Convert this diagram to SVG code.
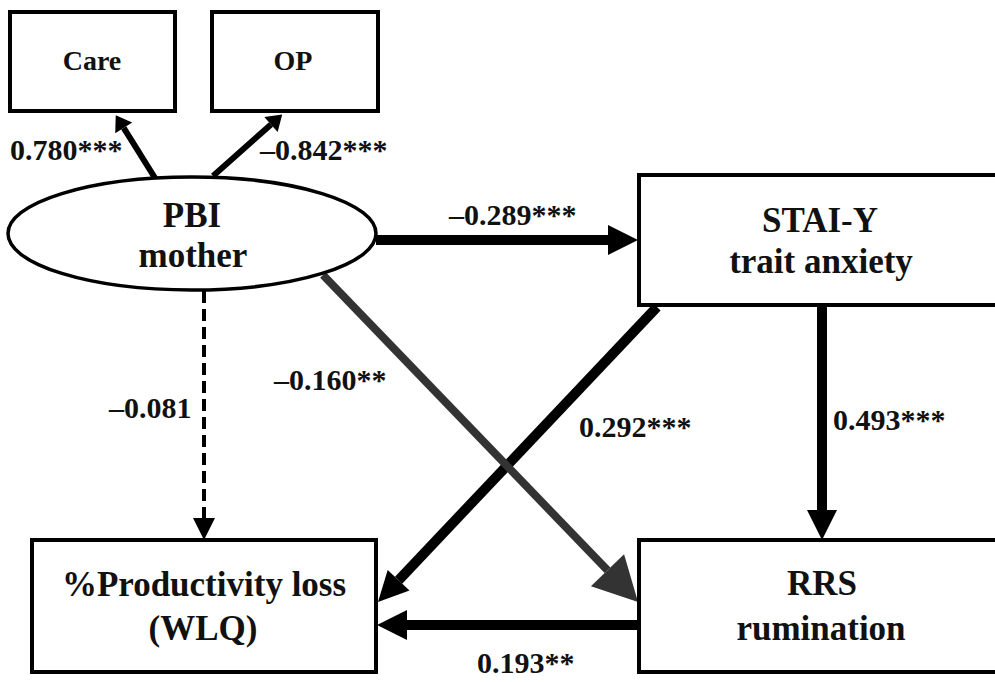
<svg xmlns="http://www.w3.org/2000/svg" width="995" height="682" viewBox="0 0 995 682">
<style>
.box{fill:#fff;stroke:#000;stroke-width:4;}
.ell{fill:#fff;stroke:#000;stroke-width:3.5;}
.thick{stroke:#000;stroke-width:10;fill:none;}
.mid{stroke:#000;stroke-width:6;fill:none;}
.gray{stroke:#333;stroke-width:8;fill:none;}
.dash{stroke:#000;stroke-width:4;stroke-dasharray:12 6;fill:none;}
</style>
<defs>
<marker id="ahBig" markerUnits="userSpaceOnUse" orient="auto" refX="0" refY="0" markerWidth="40" markerHeight="40" overflow="visible"><path d="M0,-15 L30,0 L0,15 z" fill="#000"/></marker>
<marker id="ahSmall" markerUnits="userSpaceOnUse" orient="auto" refX="0" refY="0" markerWidth="20" markerHeight="20" overflow="visible"><path d="M0,-10 L15,0 L0,10 z" fill="#000"/></marker>
<marker id="ahGray" markerUnits="userSpaceOnUse" orient="auto" refX="0" refY="0" markerWidth="60" markerHeight="60" overflow="visible"><path d="M0,-23 L44,0 L0,23 z" fill="#333"/></marker>
<marker id="ahDash" markerUnits="userSpaceOnUse" orient="auto" refX="0" refY="0" markerWidth="30" markerHeight="30" overflow="visible"><path d="M0,-11 L22,0 L0,11 z" fill="#000"/></marker>
</defs>
<rect width="995" height="682" fill="#fff"/>
<g id="connectors">
<line class="mid" x1="155" y1="178" x2="123.7" y2="127.9" marker-end="url(#ahSmall)"/>
<line class="mid" x1="213" y1="176" x2="271" y2="124.5" marker-end="url(#ahSmall)"/>
<line class="thick" x1="376" y1="240" x2="608" y2="240" marker-end="url(#ahBig)"/>
<line class="thick" x1="822" y1="305" x2="822" y2="510" marker-end="url(#ahBig)"/>
<line class="thick" x1="639" y1="625" x2="407" y2="625" marker-end="url(#ahBig)"/>
<line class="thick" x1="657" y1="307" x2="398.6" y2="580.2" marker-end="url(#ahBig)"/>
<line class="gray" x1="323" y1="275" x2="607.5" y2="570.3" marker-end="url(#ahGray)"/>
<line class="dash" x1="204" y1="291" x2="204" y2="518" marker-end="url(#ahDash)"/>
</g>
<g id="node-care"><rect class="box" x="10" y="12" width="165" height="99"/><text style="font-family:'Liberation Serif';font-weight:bold;font-size:28px" text-anchor="middle" fill="#111" x="92" y="70">Care</text></g>
<g id="node-op"><rect class="box" x="212" y="12" width="166" height="99"/><text style="font-family:'Liberation Serif';font-weight:bold;font-size:28px" text-anchor="middle" fill="#111" x="293" y="70">OP</text></g>
<g id="node-pbi"><ellipse class="ell" cx="192" cy="233.5" rx="184" ry="56.5"/><text style="font-family:'Liberation Serif';font-weight:bold;font-size:35px" text-anchor="middle" fill="#111" x="192" y="227">PBI</text><text style="font-family:'Liberation Serif';font-weight:bold;font-size:35px" text-anchor="middle" fill="#111" x="193" y="267">mother</text></g>
<g id="node-stai"><rect class="box" x="639" y="175" width="370" height="130"/><text style="font-family:'Liberation Serif';font-weight:bold;font-size:35px" text-anchor="middle" fill="#111" x="820" y="232">STAI-Y</text><text style="font-family:'Liberation Serif';font-weight:bold;font-size:35px" text-anchor="middle" fill="#111" x="821" y="273">trait anxiety</text></g>
<g id="node-wlq"><rect class="box" x="32" y="540" width="344" height="132"/><text style="font-family:'Liberation Serif';font-weight:bold;font-size:35px" text-anchor="middle" fill="#111" x="204" y="596">%Productivity loss</text><text style="font-family:'Liberation Serif';font-weight:bold;font-size:35px" text-anchor="middle" fill="#111" x="203" y="640">(WLQ)</text></g>
<g id="node-rrs"><rect class="box" x="639" y="540" width="370" height="132"/><text style="font-family:'Liberation Serif';font-weight:bold;font-size:35px" text-anchor="middle" fill="#111" x="822" y="595">RRS</text><text style="font-family:'Liberation Serif';font-weight:bold;font-size:35px" text-anchor="middle" fill="#111" x="821" y="640">rumination</text></g>
<g id="labels">
<text style="font-family:'Liberation Serif';font-weight:bold;font-size:30px" fill="#111" x="10" y="160">0.780***</text>
<text style="font-family:'Liberation Serif';font-weight:bold;font-size:30px" fill="#111" x="260" y="160">–0.842***</text>
<text style="font-family:'Liberation Serif';font-weight:bold;font-size:30px" fill="#111" x="449" y="225">–0.289***</text>
<text style="font-family:'Liberation Serif';font-weight:bold;font-size:30px" fill="#111" x="274" y="390">–0.160**</text>
<text style="font-family:'Liberation Serif';font-weight:bold;font-size:30px" fill="#111" x="109" y="418">–0.081</text>
<text style="font-family:'Liberation Serif';font-weight:bold;font-size:30px" fill="#111" x="579" y="437">0.292***</text>
<text style="font-family:'Liberation Serif';font-weight:bold;font-size:30px" fill="#111" x="833" y="430">0.493***</text>
<text style="font-family:'Liberation Serif';font-weight:bold;font-size:30px" fill="#111" x="477" y="673">0.193**</text>
</g>
</svg>
